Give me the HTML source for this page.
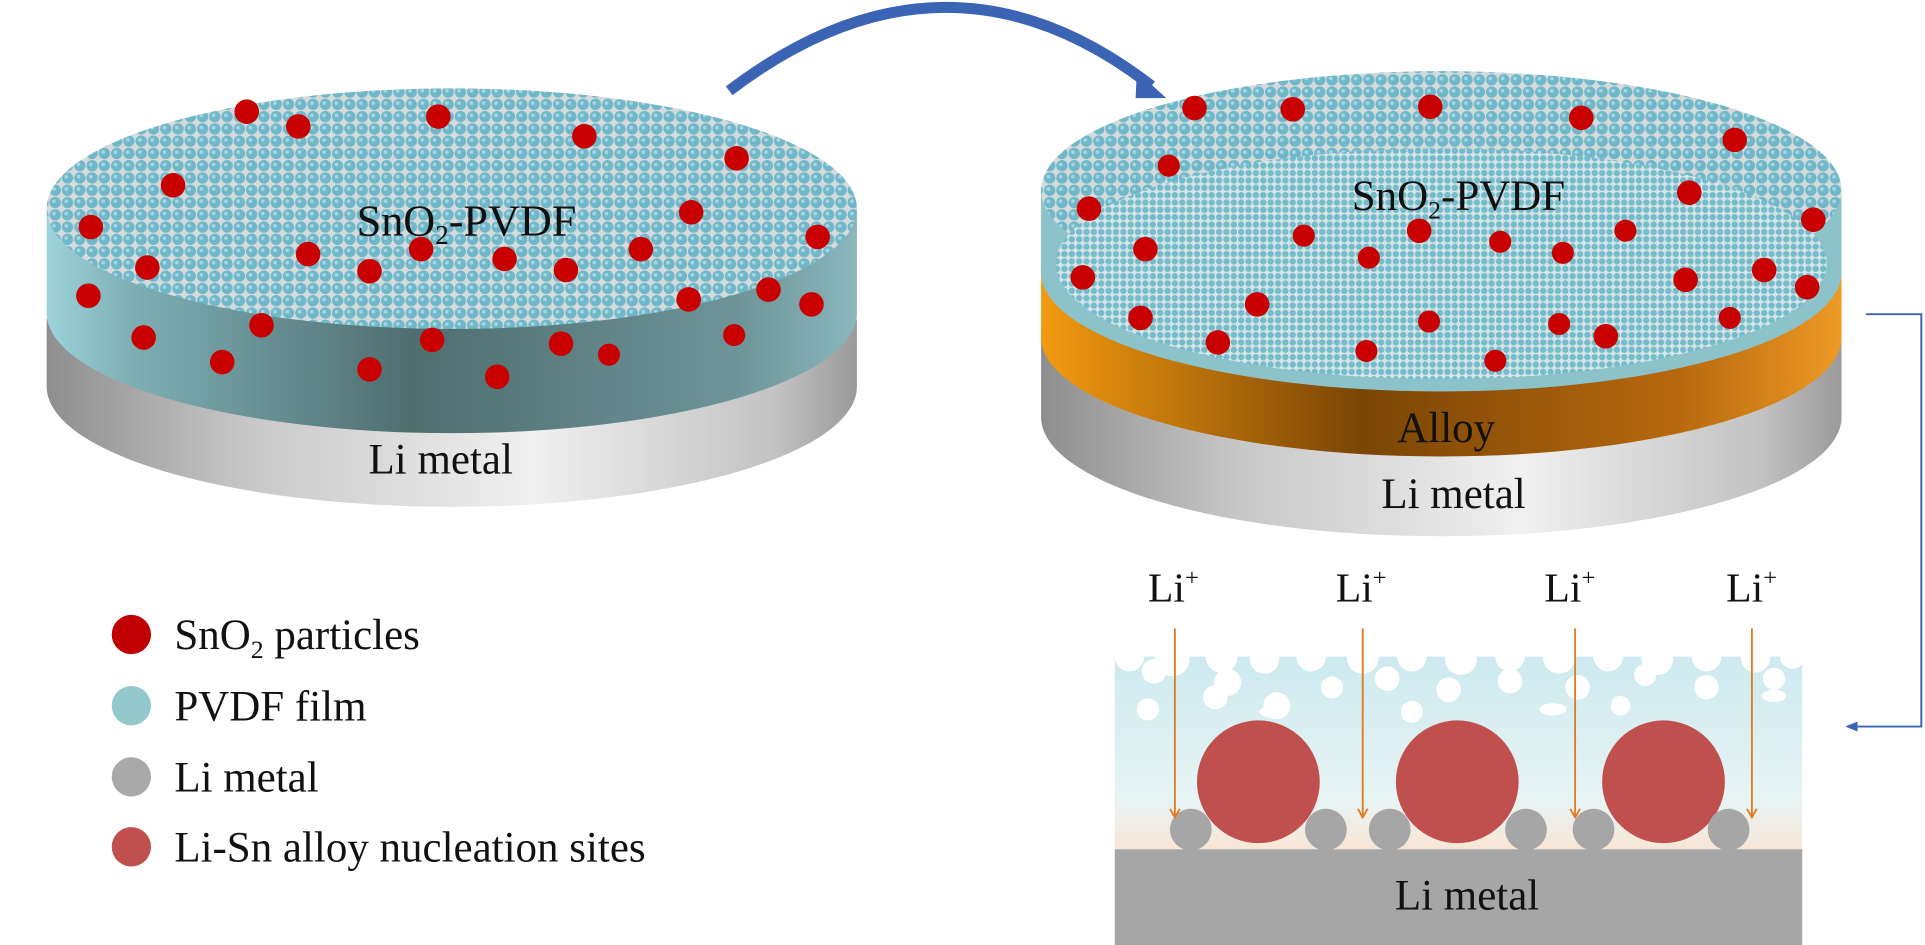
<!DOCTYPE html>
<html><head><meta charset="utf-8"><style>
html,body{margin:0;padding:0;background:#fff;}
svg{display:block;}
text{font-family:"Liberation Serif",serif;fill:#111;}
</style></head><body>
<svg width="1925" height="945" viewBox="0 0 1568 770" preserveAspectRatio="none" xmlns="http://www.w3.org/2000/svg">
<defs>
<pattern id="tex" width="10" height="10" patternUnits="userSpaceOnUse">
<rect width="10" height="10" fill="#d6dadb"/>
<circle cx="5" cy="5" r="4.6" fill="#6fb8c9"/>
<circle cx="4" cy="4" r="1.5" fill="#a9d6e0"/>
</pattern>
<pattern id="tex2" width="6" height="6" patternUnits="userSpaceOnUse">
<rect width="6" height="6" fill="#d8e4e6"/>
<circle cx="3" cy="3" r="2.6" fill="#72bccb"/>
</pattern>
<linearGradient id="blueSide" x1="0" x2="1">
<stop offset="0" stop-color="#9ed3db"/><stop offset="0.1" stop-color="#7eb0b5"/>
<stop offset="0.45" stop-color="#4f6e70"/><stop offset="0.85" stop-color="#6d9498"/><stop offset="1" stop-color="#8ab7bd"/>
</linearGradient>
<linearGradient id="graySide" x1="0" x2="1">
<stop offset="0" stop-color="#8e8e8e"/><stop offset="0.25" stop-color="#c8c8c8"/>
<stop offset="0.6" stop-color="#f0f0f0"/><stop offset="0.9" stop-color="#c2c2c2"/><stop offset="1" stop-color="#9a9a9a"/>
</linearGradient>
<linearGradient id="orSide" x1="0" x2="1">
<stop offset="0" stop-color="#f39a10"/><stop offset="0.4" stop-color="#7a4505"/>
<stop offset="0.8" stop-color="#b8690e"/><stop offset="1" stop-color="#ee9a25"/>
</linearGradient>
<linearGradient id="panel" x1="0" y1="0" x2="0" y2="1">
<stop offset="0" stop-color="#cdeaf0"/><stop offset="0.75" stop-color="#e8f4f4"/><stop offset="1" stop-color="#f8e6d6"/>
</linearGradient>
</defs>

<!-- top arc arrow -->
<path d="M594,74 Q770,-60 938,70" fill="none" stroke="#3b64b5" stroke-width="9"/>
<polygon points="926,58 950,80 925,80" fill="#3b64b5"/>

<!-- LEFT DISK -->
<path d="M38,260 L38,315 A330,98 0 0 0 698,315 L698,260 Z" fill="url(#graySide)"/>
<path d="M38,170 L38,255 A330,98 0 0 0 698,255 L698,170 Z" fill="url(#blueSide)"/>
<ellipse cx="368" cy="170" rx="330" ry="98" fill="url(#tex)"/>
<g fill="#c80000">
<circle cx="201" cy="91" r="10"/><circle cx="243" cy="103" r="10"/><circle cx="357" cy="95" r="10"/><circle cx="476" cy="111" r="10"/>
<circle cx="600" cy="129" r="10"/><circle cx="141" cy="151" r="10"/><circle cx="74" cy="185" r="10"/><circle cx="563" cy="173" r="10"/>
<circle cx="666" cy="193" r="10"/><circle cx="251" cy="207" r="10"/><circle cx="301" cy="221" r="10"/><circle cx="343" cy="203" r="10"/>
<circle cx="411" cy="211" r="10"/><circle cx="461" cy="220" r="10"/><circle cx="522" cy="203" r="10"/><circle cx="120" cy="218" r="10"/>
<circle cx="72" cy="241" r="10"/><circle cx="626" cy="236" r="10"/><circle cx="661" cy="248" r="10"/><circle cx="561" cy="244" r="10"/>
<circle cx="117" cy="275" r="10"/><circle cx="213" cy="265" r="10"/><circle cx="181" cy="295" r="10"/><circle cx="301" cy="301" r="10"/>
<circle cx="352" cy="277" r="10"/><circle cx="405" cy="307" r="10"/><circle cx="457" cy="280" r="10"/><circle cx="496" cy="289" r="9"/><circle cx="598" cy="273" r="9"/>
</g>
<text x="380" y="192" font-size="36" text-anchor="middle">SnO<tspan font-size="22" dy="7">2</tspan><tspan dy="-7">-PVDF</tspan></text>
<text x="359" y="386" font-size="35" text-anchor="middle">Li metal</text>

<!-- RIGHT DISK -->
<path d="M848,265 L848,340 A326,97 0 0 0 1500,340 L1500,265 Z" fill="url(#graySide)"/>
<path d="M848,220 L848,275 A326,97 0 0 0 1500,275 L1500,220 Z" fill="url(#orSide)"/>
<path d="M848,155 L848,222 A326,97 0 0 0 1500,222 L1500,155 Z" fill="#8cc3cb"/>
<ellipse cx="1174" cy="155" rx="326" ry="97" fill="url(#tex)"/>
<ellipse cx="1174" cy="215" rx="314" ry="94" fill="url(#tex2)"/>
<g fill="#c80000">
<circle cx="973" cy="88" r="10"/><circle cx="1053" cy="89" r="10"/><circle cx="1165" cy="87" r="10"/><circle cx="1288" cy="96" r="10"/>
<circle cx="1413" cy="114" r="10"/><circle cx="952" cy="135" r="9"/><circle cx="887" cy="170" r="10"/><circle cx="1376" cy="157" r="10"/>
<circle cx="1477" cy="179" r="10"/><circle cx="933" cy="203" r="10"/><circle cx="1062" cy="192" r="9"/><circle cx="1115" cy="210" r="9"/>
<circle cx="1156" cy="188" r="10"/><circle cx="1222" cy="197" r="9"/><circle cx="1273" cy="206" r="9"/><circle cx="1324" cy="188" r="9"/>
<circle cx="882" cy="226" r="10"/><circle cx="1024" cy="248" r="10"/><circle cx="1373" cy="228" r="10"/><circle cx="1437" cy="220" r="10"/>
<circle cx="1472" cy="234" r="10"/><circle cx="929" cy="259" r="10"/><circle cx="992" cy="279" r="10"/><circle cx="1164" cy="262" r="9"/>
<circle cx="1270" cy="264" r="9"/><circle cx="1308" cy="274" r="10"/><circle cx="1409" cy="259" r="9"/><circle cx="1113" cy="286" r="9"/><circle cx="1218" cy="294" r="9"/>
</g>
<text x="1188" y="171" font-size="35" text-anchor="middle">SnO<tspan font-size="21" dy="7">2</tspan><tspan dy="-7">-PVDF</tspan></text>
<text x="1178" y="360" font-size="35" text-anchor="middle">Alloy</text>
<text x="1184" y="414" font-size="35" text-anchor="middle">Li metal</text>

<!-- connector -->
<polyline points="1520,256 1565,256 1565,592 1510,592" fill="none" stroke="#3b64b5" stroke-width="1.6"/>
<polygon points="1503,592 1513,588 1513,596" fill="#3b64b5"/>

<!-- LEGEND -->
<circle cx="107" cy="517" r="16" fill="#c00000"/>
<circle cx="107" cy="575" r="16" fill="#93c8cc"/>
<circle cx="107" cy="633" r="16" fill="#a9a9a9"/>
<circle cx="107" cy="690" r="16" fill="#c0504d"/>
<text x="142" y="529" font-size="35">SnO<tspan font-size="21" dy="7">2</tspan><tspan dy="-7"> particles</tspan></text>
<text x="142" y="587" font-size="35">PVDF film</text>
<text x="142" y="645" font-size="35">Li metal</text>
<text x="142" y="702" font-size="35">Li-Sn alloy nucleation sites</text>

<!-- BOTTOM PANEL -->
<rect x="908" y="535" width="560" height="157" fill="url(#panel)"/>
<g fill="#fff">
<circle cx="920" cy="535" r="12"/><circle cx="955" cy="537" r="14"/><circle cx="995" cy="535" r="13"/><circle cx="1030" cy="537" r="12"/>
<circle cx="1068" cy="535" r="12"/><circle cx="1110" cy="536" r="13"/><circle cx="1150" cy="535" r="12"/><circle cx="1190" cy="537" r="13"/>
<circle cx="1230" cy="535" r="12"/><circle cx="1270" cy="536" r="13"/><circle cx="1310" cy="535" r="12"/><circle cx="1350" cy="537" r="13"/>
<circle cx="1390" cy="535" r="12"/><circle cx="1430" cy="536" r="12"/><circle cx="1460" cy="535" r="10"/>
<circle cx="940" cy="547" r="10"/><circle cx="1000" cy="556" r="11"/><circle cx="1040" cy="575" r="11"/><circle cx="990" cy="568" r="10"/>
<circle cx="1085" cy="560" r="9"/><circle cx="1130" cy="553" r="10"/><circle cx="1180" cy="562" r="10"/><circle cx="1230" cy="555" r="10"/>
<circle cx="1285" cy="560" r="10"/><circle cx="1340" cy="550" r="9"/><circle cx="1390" cy="560" r="10"/><circle cx="1445" cy="553" r="9"/>
<circle cx="935" cy="578" r="9"/><circle cx="1150" cy="580" r="9"/><circle cx="1320" cy="575" r="8"/>
<ellipse cx="1037" cy="580" rx="11" ry="5"/><ellipse cx="1265" cy="578" rx="11" ry="5"/><ellipse cx="1445" cy="567" rx="10" ry="5"/>
</g>
<g fill="#c0504d">
<circle cx="1025" cy="637" r="50"/><circle cx="1187" cy="637" r="50"/><circle cx="1355" cy="637" r="50"/>
</g>
<g fill="#a6a6a6">
<circle cx="970" cy="676" r="17"/><circle cx="1080" cy="676" r="17"/><circle cx="1132" cy="676" r="17"/>
<circle cx="1243" cy="676" r="17"/><circle cx="1298" cy="676" r="17"/><circle cx="1408" cy="676" r="17"/>
</g>
<rect x="908" y="692" width="560" height="78" fill="#a6a6a6"/>
<text x="1195" y="741" font-size="35" text-anchor="middle">Li metal</text>
<g stroke="#e07b22" stroke-width="1.5" fill="none">
<line x1="957" y1="512" x2="957" y2="665"/><line x1="1110" y1="512" x2="1110" y2="665"/>
<line x1="1283" y1="512" x2="1283" y2="665"/><line x1="1427" y1="512" x2="1427" y2="665"/>
<path d="M953,659 L957,666 L961,659 M1106,659 L1110,666 L1114,659 M1279,659 L1283,666 L1287,659 M1423,659 L1427,666 L1431,659"/>
</g>
<g font-size="34">
<text x="935" y="490">Li<tspan font-size="20" dy="-13">+</tspan></text>
<text x="1088" y="490">Li<tspan font-size="20" dy="-13">+</tspan></text>
<text x="1258" y="490">Li<tspan font-size="20" dy="-13">+</tspan></text>
<text x="1406" y="490">Li<tspan font-size="20" dy="-13">+</tspan></text>
</g>
</svg>
</body></html>
